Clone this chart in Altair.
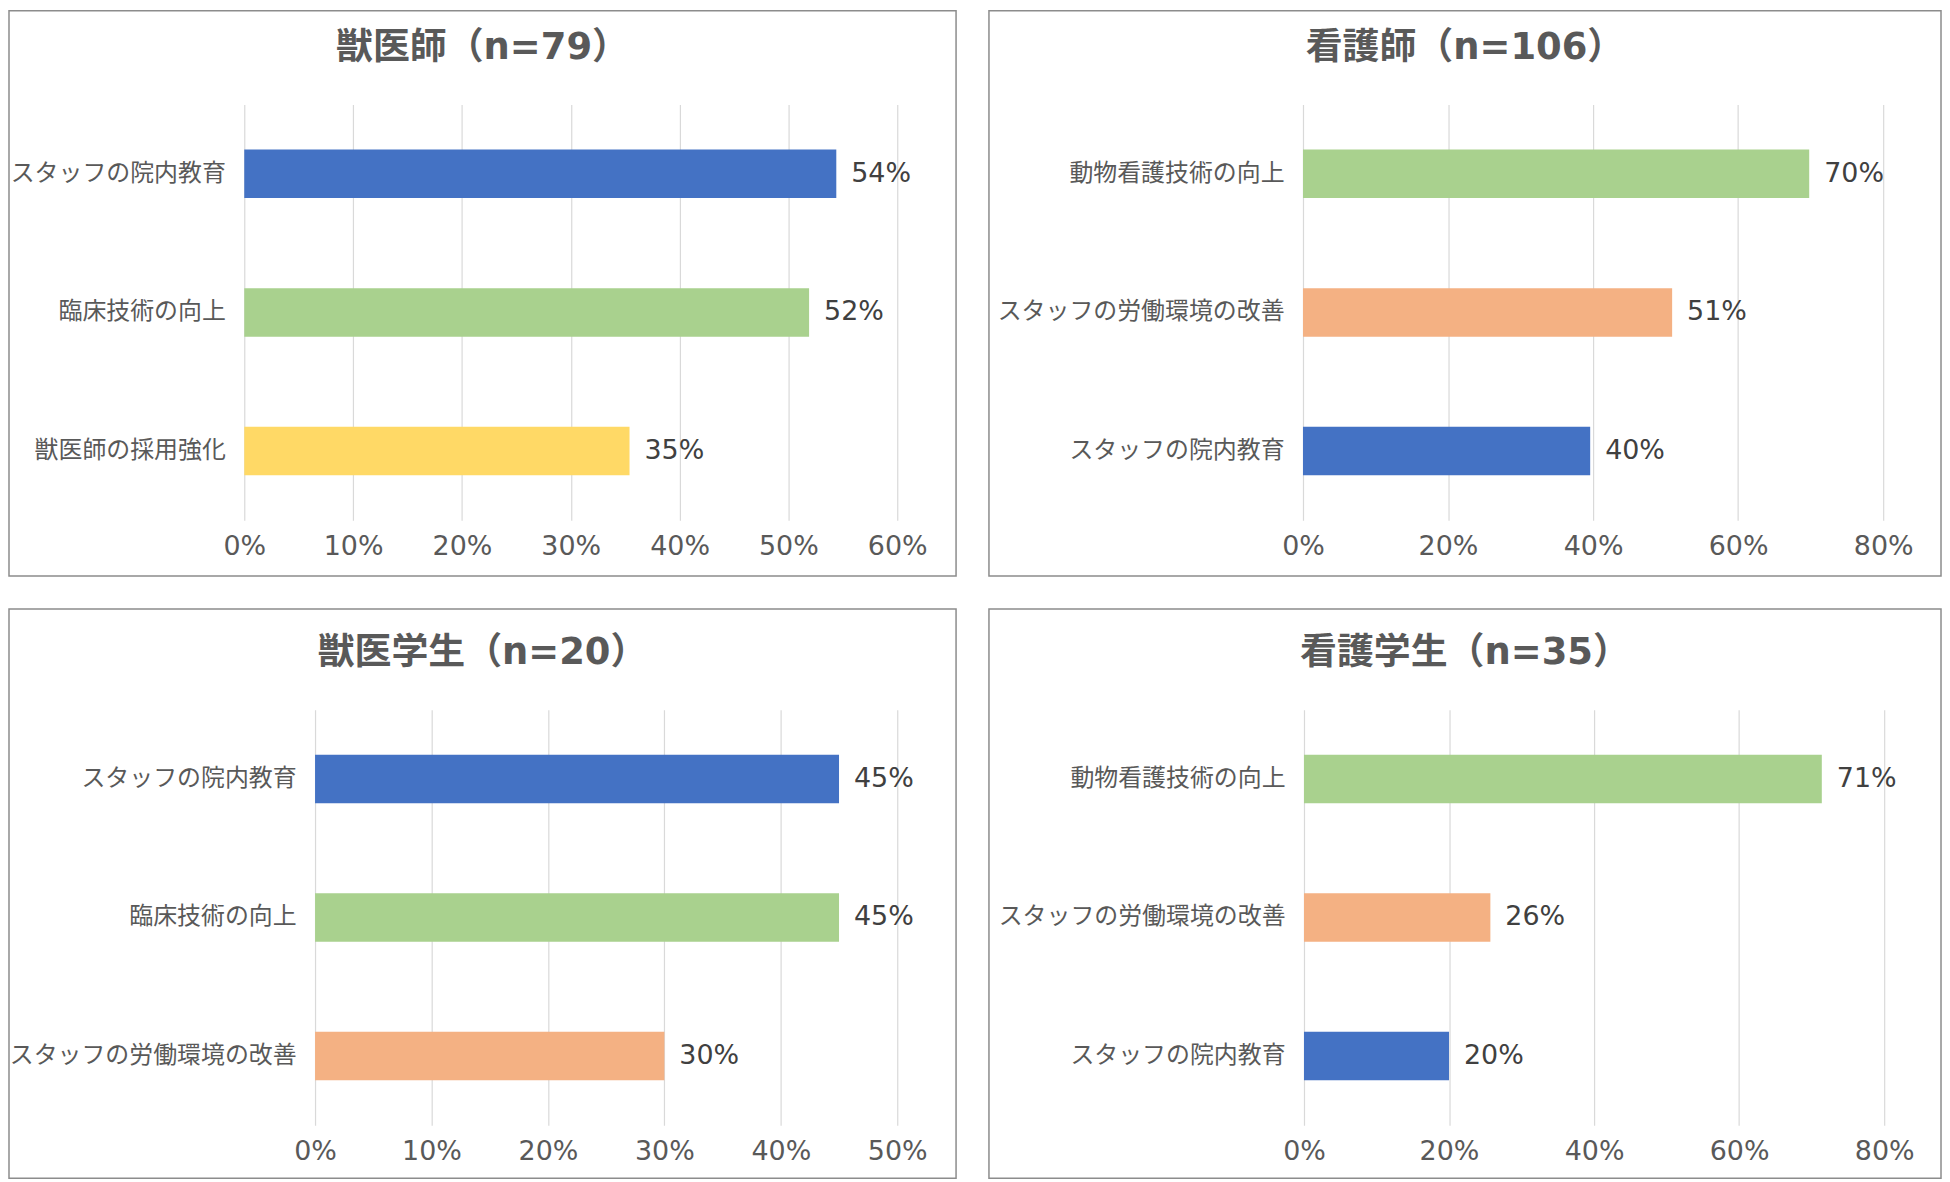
import altair as alt
import pandas as pd

# ---- data ----
titles = ["獣医師（n=79）", "看護師（n=106）", "獣医学生（n=20）", "看護学生（n=35）"]

cats_vet = ["スタッフの院内教育", "臨床技術の向上", "獣医師の採用強化"]
vals_vet = [0.544, 0.519, 0.354]

cats_nurse = ["動物看護技術の向上", "スタッフの労働環境の改善", "スタッフの院内教育"]
vals_nurse = [0.698, 0.509, 0.396]

cats_vet_student = ["スタッフの院内教育", "臨床技術の向上", "スタッフの労働環境の改善"]
vals_vet_student = [0.45, 0.45, 0.30]

cats_nurse_student = ["動物看護技術の向上", "スタッフの労働環境の改善", "スタッフの院内教育"]
vals_nurse_student = [0.714, 0.257, 0.20]

x_max = [0.6, 0.8, 0.5, 0.8]
x_ticks = [
    [0, 0.1, 0.2, 0.3, 0.4, 0.5, 0.6],
    [0, 0.2, 0.4, 0.6, 0.8],
    [0, 0.1, 0.2, 0.3, 0.4, 0.5],
    [0, 0.2, 0.4, 0.6, 0.8],
]

color_domain = ["スタッフの院内教育", "臨床技術の向上", "動物看護技術の向上",
                "獣医師の採用強化", "スタッフの労働環境の改善"]
color_range = ["#4472C4", "#A9D18E", "#A9D18E", "#FFD966", "#F4B183"]

CJK = "Noto Sans CJK JP"
NUM = "DejaVu Sans"
TITLE_FONT = "DejaVu Sans, Noto Sans CJK JP"
PLOT_H = 417


def panel(title, cats, vals, xmax, ticks, label_w, plot_w, right, top, bottom):
    df = pd.DataFrame({"cat": cats, "val": vals})
    base = alt.Chart(df).encode(
        y=alt.Y(
            "cat:N",
            sort=cats,
            scale=alt.Scale(paddingInner=0.65, paddingOuter=0.325),
            axis=alt.Axis(
                title=None, ticks=False, domain=False, grid=False,
                offset=-label_w,
                labelFont=CJK, labelFontSize=24, labelColor="#595959",
                labelPadding=19, labelLimit=0,
            ),
        ),
        x=alt.X(
            "val:Q",
            scale=alt.Scale(domain=[0, xmax], range=[label_w, label_w + plot_w],
                            nice=False, zero=True),
            axis=alt.Axis(
                title=None, values=ticks, format=".0%", ticks=False,
                domain=False, grid=True, gridColor="#D9D9D9", gridWidth=1.2,
                labelFont=NUM, labelFontSize=27, labelColor="#595959",
                labelPadding=13, labelFlush=False, labelOverlap=False,
            ),
        ),
    )
    bars = base.mark_bar().encode(
        color=alt.Color("cat:N", scale=alt.Scale(domain=color_domain, range=color_range),
                        legend=None)
    )
    labels = base.mark_text(
        align="left", baseline="middle", dx=15, font=NUM, fontSize=27, color="#404040"
    ).encode(text=alt.Text("val:Q", format=".0%"))

    frame_df = pd.DataFrame({"t": [title]})
    total_w = label_w + plot_w + right
    frame = alt.Chart(frame_df).mark_rect(
        fillOpacity=0, stroke="#8C8C8C", strokeWidth=1.5
    ).encode(
        x=alt.value(0), x2=alt.value(total_w),
        y=alt.value(-top), y2=alt.value(PLOT_H + bottom),
    )
    head = alt.Chart(frame_df).mark_text(
        font=TITLE_FONT, fontSize=37, fontWeight="bold", color="#595959",
        align="center", baseline="middle",
    ).encode(
        x=alt.value(total_w / 2),
        y=alt.value(-57),
        text="t:N",
    )
    return alt.layer(frame, bars, labels, head).properties(
        width=label_w + plot_w, height=PLOT_H
    )


tl = panel(titles[0], cats_vet, vals_vet, x_max[0], x_ticks[0], 236, 655, 59, 94, 56)
tr = panel(titles[1], cats_nurse, vals_nurse, x_max[1], x_ticks[1], 315, 582, 58, 94, 56)
bl = panel(titles[2], cats_vet_student, vals_vet_student, x_max[2], x_ticks[2], 307, 584, 59, 101, 53)
br = panel(titles[3], cats_nurse_student, vals_nurse_student, x_max[3], x_ticks[3], 316, 582, 57, 101, 53)

chart = alt.concat(
    tl, tr, bl, br, columns=2, align="none", spacing={"row": 31, "column": 31}
).configure(padding=0, background="white").configure_view(stroke=None)

chart.save("out.html", embed_options={"renderer": "svg", "actions": False})
